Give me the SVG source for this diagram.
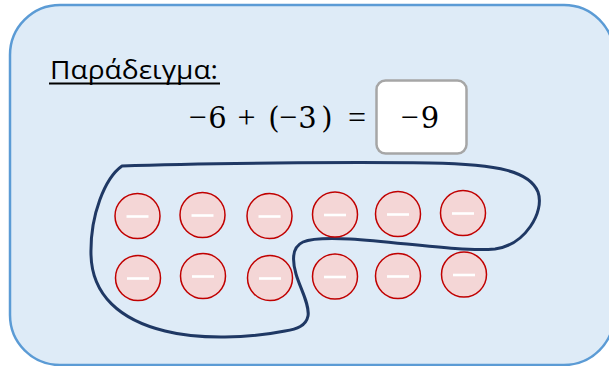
<svg xmlns="http://www.w3.org/2000/svg" width="609" height="366" viewBox="0 0 609 366">
<style>
.chip circle{fill:#F4D6D6;stroke:#C00000;stroke-width:1.5}
.chip line{stroke:#FFFFFF;stroke-width:2.6}
.math{font-family:"DejaVu Serif","Liberation Serif",serif;font-size:29px;fill:#000;text-anchor:middle}
.op{font-family:"Liberation Serif","DejaVu Serif",serif;font-size:32px}
</style>
<defs>
<g id="chip" class="chip"><circle cx="0" cy="0" r="22.5"/><line x1="-11" y1="0.5" x2="11" y2="0.5"/></g>
</defs>
<g id="panel">
<rect x="10" y="5" width="604" height="360" rx="50" ry="50" fill="#DEEBF7" stroke="#5B9BD5" stroke-width="2.5"/>
</g>
<g id="title">
<text x="50" y="79" font-family="Open Sans, Noto Sans, sans-serif" font-size="25" textLength="168" lengthAdjust="spacingAndGlyphs" fill="#000">Παράδειγμα:</text>
<line x1="49" y1="83.5" x2="220" y2="83.5" stroke="#000" stroke-width="2"/>
</g>
<g id="equation">
<text class="math" y="128"><tspan class="op" x="197.5">−</tspan><tspan x="217.5">6</tspan><tspan class="op" x="246.5">+</tspan><tspan x="274">(</tspan><tspan class="op" x="288">−</tspan><tspan x="307.5">3</tspan><tspan x="327">)</tspan><tspan class="op" x="357">=</tspan></text>
</g>
<g id="answer">
<rect x="376.5" y="80.5" width="90" height="73" rx="9" ry="9" fill="#FFFFFF" stroke="#A6A6A6" stroke-width="2.5"/>
<text class="math" y="128"><tspan class="op" x="409.5">−</tspan><tspan x="430">9</tspan></text>
</g>
<g id="connectors">
<path d="M 122,166 C 200,163 350,162 430,163 C 500,164 530,172 538,192 C 545,212 525,245 495,249 C 460,252 400,242 350,239 C 330,238 312,238 303,242 C 292,247 292,260 296,274 C 300,288 310,305 308,316 C 306,326 297,329 285,331 C 250,338 200,340 165,331 C 120,320 92,295 91,255 C 90,215 105,178 122,166 Z" fill="none" stroke="#1F3864" stroke-width="3" stroke-linejoin="round"/>
</g>
<g id="chips">
<use href="#chip" x="137.5" y="216"/>
<use href="#chip" x="202.5" y="215"/>
<use href="#chip" x="269.5" y="216"/>
<use href="#chip" x="335" y="214.5"/>
<use href="#chip" x="398" y="214"/>
<use href="#chip" x="463" y="213"/>
<use href="#chip" x="138" y="278"/>
<use href="#chip" x="203" y="276"/>
<use href="#chip" x="270" y="278"/>
<use href="#chip" x="335" y="276.5"/>
<use href="#chip" x="398" y="276"/>
<use href="#chip" x="464" y="274.5"/>
</g>
</svg>
